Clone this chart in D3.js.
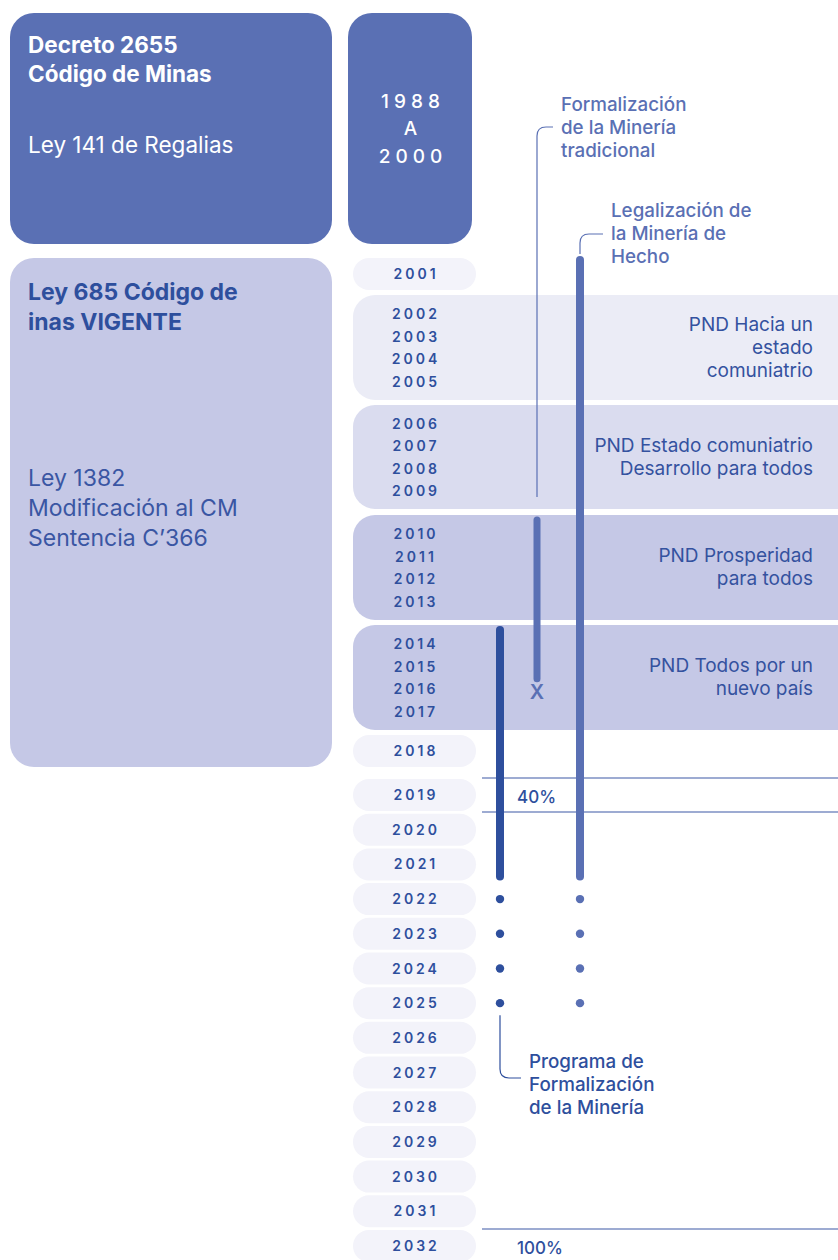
<!DOCTYPE html>
<html>
<head>
<meta charset="utf-8">
<script src="https://cdn.jsdelivr.net/npm/d3@7"></script>
<style>
  body { margin: 0; background: #fff; }
  svg { display: block; }
  text { font-family: Inter, "Noto Sans", sans-serif; }
</style>
</head>
<body>
<script>
// Years shown down the timeline column
const years = [2001, 2002, 2003, 2004, 2005, 2006, 2007, 2008, 2009, 2010,
  2011, 2012, 2013, 2014, 2015, 2016, 2017, 2018, 2019, 2020, 2021, 2022,
  2023, 2024, 2025, 2026, 2027, 2028, 2029, 2030, 2031, 2032];

// National development plans (PND)
const pndPeriods = [
  { start: 2002, end: 2005, label: ["PND Hacia un", "estado", "comuniatrio"] },
  { start: 2006, end: 2009, label: ["PND Estado comuniatrio", "Desarrollo para todos"] },
  { start: 2010, end: 2013, label: ["PND Prosperidad", "para todos"] },
  { start: 2014, end: 2017, label: ["PND Todos por un", "nuevo país"] }
];

// Legal framework boxes
const earlyPeriod = ["1988", "A", "2000"];
const earlyLaws = { title: ["Decreto 2655", "Código de Minas"], body: ["Ley 141 de Regalias"] };
const currentLaws = { start: 2001, end: 2018,
  title: ["Ley 685 Código de", "inas VIGENTE"],
  body: ["Ley 1382", "Modificación al CM", "Sentencia C’366"] };

// Programs: active years (bar), projected years (dots)
const programs = [
  { id: "trad", label: ["Formalización", "de la Minería", "tradicional"], start: 2010, end: 2015, cancelled: 2016, projected: [] },
  { id: "hecho", label: ["Legalización de", "la Minería de", "Hecho"], start: 2001, end: 2021, cancelled: null, projected: [2022, 2023, 2024, 2025] },
  { id: "prog", label: ["Programa de", "Formalización", "de la Minería"], start: 2014, end: 2021, cancelled: null, projected: [2022, 2023, 2024, 2025] }
];

// Formalization targets
const targets = [
  { year: 2019, value: "40%", bracket: true },
  { year: 2032, value: "100%", bracket: false }
];

const width = 838, height = 1260;
const dark = "#2e4f9d", mid = "#5a70b4";

const svg = d3.select("body").append("svg")
  .attr("width", width).attr("height", height);

// piecewise year scale: grouped years sit tighter inside PND bands
const y = d3.scaleLinear()
  .domain([2001, 2002, 2005, 2006, 2009, 2010, 2013, 2014, 2017, 2018, 2019, 2032])
  .range([274, 314, 382, 424, 491, 534, 602, 644, 712, 751, 795, 1246]);

const progX = d3.scaleOrdinal().domain(["prog", "trad", "hecho"]).range([500, 537, 580]);
const bandFill = d3.scaleOrdinal().domain(pndPeriods.map(d => d.start))
  .range(["#ebecf6", "#dadcef", "#c5c8e6", "#c5c8e6"]);

// ---- left boxes
svg.append("rect").attr("x", 10).attr("y", 13).attr("width", 322).attr("height", 231)
  .attr("rx", 24).attr("fill", mid);
svg.append("rect").attr("x", 348).attr("y", 13).attr("width", 124).attr("height", 231)
  .attr("rx", 24).attr("fill", mid);

svg.selectAll(".early-title").data(earlyLaws.title).join("text")
  .attr("x", 28).attr("y", (d, i) => 53 + i * 29)
  .attr("fill", "#fff").attr("font-size", 22.5).attr("font-weight", 700).text(d => d);
svg.selectAll(".early-body").data(earlyLaws.body).join("text")
  .attr("x", 28).attr("y", 153)
  .attr("fill", "#fff").attr("font-size", 22.5).attr("font-weight", 400).text(d => d);

svg.selectAll(".early-year").data(earlyPeriod).join("text")
  .attr("x", 413).attr("y", (d, i) => [108, 135, 163][i])
  .attr("text-anchor", "middle").attr("fill", "#fff")
  .attr("font-size", 19).attr("font-weight", 500).attr("letter-spacing", 5).text(d => d);

svg.append("rect").attr("x", 10).attr("y", y(currentLaws.start) - 16)
  .attr("width", 322).attr("height", y(currentLaws.end) - y(currentLaws.start) + 32)
  .attr("rx", 24).attr("fill", "#c5c8e6");

svg.selectAll(".cur-title").data(currentLaws.title).join("text")
  .attr("x", 28).attr("y", (d, i) => 300 + i * 30)
  .attr("fill", dark).attr("font-size", 23).attr("font-weight", 700).text(d => d);
svg.selectAll(".cur-body").data(currentLaws.body).join("text")
  .attr("x", 28).attr("y", (d, i) => 486 + i * 30)
  .attr("fill", "#3a56a3").attr("font-size", 23).attr("font-weight", 400).text(d => d);

// ---- PND bands
const bands = svg.append("g").selectAll("g").data(pndPeriods).join("g");
bands.append("rect")
  .attr("x", 353).attr("y", d => y(d.start) - 19)
  .attr("width", 520).attr("height", d => y(d.end) - y(d.start) + 37)
  .attr("rx", 22).attr("fill", d => bandFill(d.start));
bands.each(function(d) {
  const n = d.label.length;
  const mid = (y(d.start) - 19 + y(d.end) + 18) / 2;
  d3.select(this).selectAll("text").data(d.label).join("text")
    .attr("x", 813).attr("y", (t, i) => mid + 6 + (i - (n - 1) / 2) * 23)
    .attr("text-anchor", "end").attr("fill", "#34529f")
    .attr("font-size", 19).text(t => t);
});

// ---- year pills and labels
const single = years.filter(yr => !pndPeriods.some(p => yr >= p.start && yr <= p.end));
svg.append("g").selectAll("rect").data(single).join("rect")
  .attr("x", 353).attr("y", d => y(d) - 16).attr("width", 123).attr("height", 32)
  .attr("rx", 16).attr("fill", "#f3f3fa");

svg.append("g").selectAll("text").data(years).join("text")
  .attr("x", 416).attr("y", d => y(d)).attr("dy", "0.36em")
  .attr("text-anchor", "middle").attr("fill", dark)
  .attr("font-size", 14).attr("font-weight", 600).attr("letter-spacing", 3)
  .text(d => d);

// ---- target lines
targets.forEach(t => {
  const ys = t.bracket ? [y(t.year) - 17, y(t.year) + 17] : [y(t.year) - 17];
  svg.selectAll(null).data(ys).join("line")
    .attr("x1", 482).attr("x2", width).attr("y1", d => d).attr("y2", d => d)
    .attr("stroke", "#3d58a6").attr("stroke-width", 1.2);
  svg.append("text").attr("x", 517).attr("y", y(t.year) + 8)
    .attr("fill", dark).attr("font-size", 17).attr("font-weight", 500).text(t.value);
});

// ---- program bars
const progColor = d3.scaleOrdinal().domain(["trad", "hecho", "prog"]).range([mid, mid, dark]);
const progWidth = d3.scaleOrdinal().domain(["trad", "hecho", "prog"]).range([7, 8, 8]);

svg.append("g").selectAll("line").data(programs).join("line")
  .attr("x1", d => progX(d.id)).attr("x2", d => progX(d.id))
  .attr("y1", d => y(d.start) - 14).attr("y2", d => y(d.end) + 12)
  .attr("stroke", d => progColor(d.id)).attr("stroke-width", d => progWidth(d.id))
  .attr("stroke-linecap", "round");

programs.forEach(p => {
  svg.append("g").selectAll("circle").data(p.projected).join("circle")
    .attr("cx", progX(p.id)).attr("cy", d => y(d)).attr("r", 4.2)
    .attr("fill", progColor(p.id));
  if (p.cancelled) {
    // cross marking the programme's end
    svg.append("text").attr("x", progX(p.id)).attr("y", y(p.cancelled) + 10)
      .attr("text-anchor", "middle").attr("fill", mid)
      .attr("font-size", 20).attr("font-weight", 600).text("X");
  }
});

// ---- annotations with leader lines
const notes = {
  trad: { x: 561, y: 111, hookY: 127, from: y(2009) + 6, color: mid },
  hecho: { x: 611, y: 217, hookY: 234, from: y(2001) - 20, color: mid },
  prog: { x: 529, y: 1068, hookY: 1078, from: y(2025) + 12, color: dark }
};

programs.forEach(p => {
  const n = notes[p.id];
  const px = progX(p.id);
  const path = d3.path();
  const r = 9;
  const dir = n.hookY < n.from ? -1 : 1;
  path.moveTo(px, n.from);
  path.lineTo(px, n.hookY - dir * r);
  path.quadraticCurveTo(px, n.hookY, px + r, n.hookY);
  path.lineTo(n.x - 8, n.hookY);
  svg.append("path").attr("d", path.toString())
    .attr("fill", "none").attr("stroke", n.color).attr("stroke-width", 1.2);

  svg.append("g").selectAll("text").data(p.label).join("text")
    .attr("x", n.x).attr("y", (d, i) => n.y + i * 23)
    .attr("fill", n.color).attr("font-size", 18.8).attr("font-weight", 500)
    .text(d => d);
});
</script>
</body>
</html>
